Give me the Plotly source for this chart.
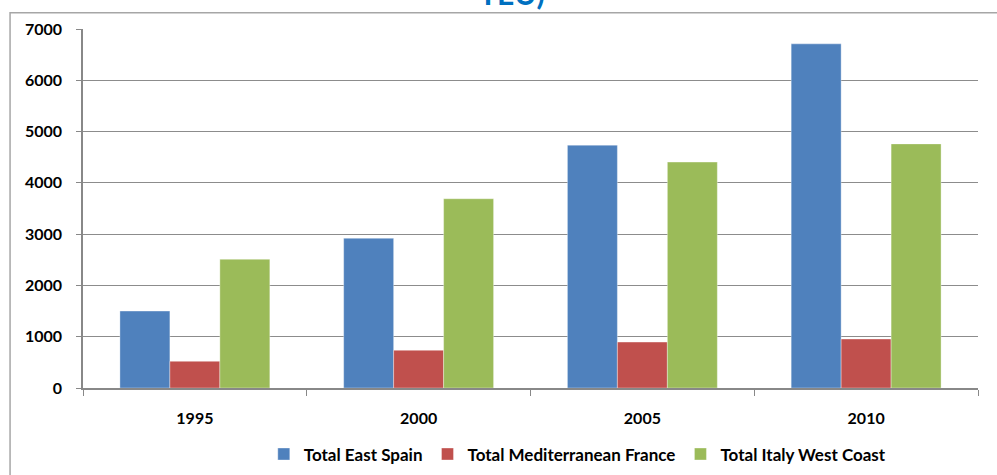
import plotly.graph_objects as go

years = ["1995", "2000", "2005", "2010"]
east_spain = [1500, 2920, 4735, 6710]
med_france = [520, 735, 895, 955]
italy_west = [2510, 3690, 4405, 4760]
series_names = ["Total East Spain", "Total Mediterranean France", "Total Italy West Coast"]
series_colors = ["#4F81BD", "#C0504D", "#9BBB59"]
y_ticks = [0, 1000, 2000, 3000, 4000, 5000, 6000, 7000]

FONT = "Lato, Liberation Sans, sans-serif"

fig = go.Figure()
for name, vals, col in zip(series_names, [east_spain, med_france, italy_west], series_colors):
    fig.add_trace(go.Bar(
        x=years, y=vals, name="<b>" + name + "</b>",
        marker=dict(color=col, line=dict(color="rgba(255,255,255,0.35)", width=1)),
    ))

fig.update_layout(
    width=997, height=475,
    margin=dict(l=83, r=19, t=29, b=87, autoexpand=False),
    paper_bgcolor="white", plot_bgcolor="white",
    barmode="group", bargap=0.33, bargroupgap=0,
    font=dict(family=FONT, size=13, color="black"),
    showlegend=True,
    legend=dict(
        orientation="h", x=0.202, xanchor="left", y=-0.135, yanchor="top",
        font=dict(family=FONT, size=17, color="black"),
        itemwidth=30, traceorder="normal",
    ),
    xaxis=dict(
        automargin=False,
        showline=True, linecolor="#888888", linewidth=1.5,
        ticks="outside", tickson="boundaries", ticklen=6, tickcolor="#888888",
        tickfont=dict(family=FONT, size=16, color="black", weight="bold"),
        ticklabelstandoff=15,
        showgrid=False,
    ),
    yaxis=dict(
        automargin=False,
        range=[0, 7000], tickvals=y_ticks,
        showline=True, linecolor="#888888", linewidth=1.5,
        ticks="outside", ticklen=5, tickcolor="#888888",
        tickfont=dict(family=FONT, size=16, color="black", weight="bold"),
        ticklabelstandoff=11,
        showgrid=True, gridcolor="#8C8C8C", gridwidth=1,
        zeroline=False,
    ),
    shapes=[dict(
        type="rect", xref="paper", yref="paper",
        x0=-0.0815, x1=1.03, y0=-0.3, y1=1.045,
        line=dict(color="#A6A6A6", width=1.5), fillcolor="rgba(0,0,0,0)", layer="below",
    )],
    annotations=[dict(
        text="<b>TEU)</b>", xref="paper", yref="paper", x=0.479, y=1.045,
        xanchor="center", yanchor="bottom", showarrow=False,
        font=dict(family=FONT, size=30, color="#0070C0"),
    )],
)

fig.write_html("out.html")
